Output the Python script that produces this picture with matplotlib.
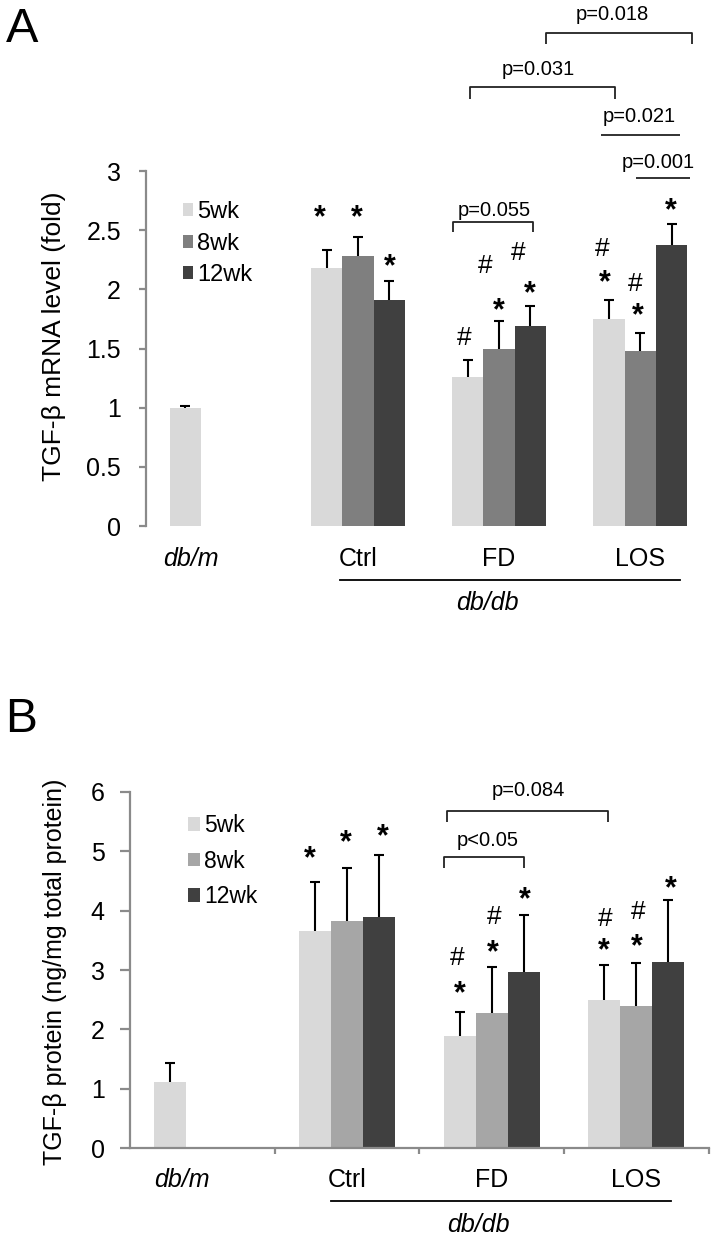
import numpy as np
import matplotlib
matplotlib.use('Agg')
import matplotlib.pyplot as plt

plt.rcParams['font.family'] = ['Liberation Sans', 'DejaVu Sans']

# ---- data ----
groups = ['db/m', 'Ctrl', 'FD', 'LOS']
weeks = ['5wk', '8wk', '12wk']
nan = np.nan

mrna_5wk = [1.00, 2.18, 1.26, 1.75]
mrna_8wk = [nan, 2.28, 1.50, 1.48]
mrna_12wk = [nan, 1.91, 1.69, 2.375]
mrna_err_5wk = [0.01, 0.15, 0.14, 0.16]
mrna_err_8wk = [nan, 0.16, 0.23, 0.15]
mrna_err_12wk = [nan, 0.16, 0.17, 0.18]

prot_5wk = [1.12, 3.65, 1.89, 2.49]
prot_8wk = [nan, 3.83, 2.28, 2.40]
prot_12wk = [nan, 3.90, 2.96, 3.14]
prot_err_5wk = [0.32, 0.83, 0.40, 0.60]
prot_err_8wk = [nan, 0.88, 0.77, 0.71]
prot_err_12wk = [nan, 1.04, 0.96, 1.04]

mrna_ticks = [0, 0.5, 1, 1.5, 2, 2.5, 3]
mrna_ticklabels = ['0', '0.5', '1', '1.5', '2', '2.5', '3']
prot_ticks = [0, 1, 2, 3, 4, 5, 6]
prot_ticklabels = ['0', '1', '2', '3', '4', '5', '6']

# significance marks: (symbol, x, y)
mrna_marks = [('*', 0.728, 2.687), ('*', 0.994, 2.687), ('*', 1.223, 2.265),
              ('#', 1.756, 1.606), ('#', 1.902, 2.222), ('*', 1.996, 1.90),
              ('#', 2.135, 2.327), ('*', 2.216, 2.037),
              ('#', 2.727, 2.360), ('*', 2.749, 2.130), ('#', 2.966, 2.065),
              ('*', 2.982, 1.851), ('*', 3.212, 2.741)]
prot_marks = [('*', 0.741, 5.03), ('*', 0.991, 5.29), ('*', 1.246, 5.40),
              ('#', 1.764, 3.24), ('*', 1.780, 2.75), ('#', 2.017, 3.93),
              ('*', 2.011, 3.45), ('*', 2.232, 4.34),
              ('#', 2.784, 3.90), ('*', 2.778, 3.48), ('#', 3.012, 4.01),
              ('*', 3.006, 3.55), ('*', 3.242, 4.53)]

# p-value brackets: (label, x0, x1, y_top, y_leg, text_x, text_baseline)
mrna_brackets = [('p=0.055', 1.676, 2.242, 2.572, 2.482, 1.963, 2.62),
                 ('p=0.031', 1.795, 2.817, 3.707, 3.611, 2.28, 3.809),
                 ('p=0.018', 2.332, 3.367, 4.169, 4.073, 2.80, 4.276),
                 ('p=0.021', 2.72, 3.277, 3.304, 3.304, 2.992, 3.417),
                 ('p=0.001', 2.966, 3.348, 2.938, 2.938, 3.128, 3.023)]
prot_brackets = [('p<0.05', 1.671, 2.226, 4.897, 4.722, 1.970, 5.087),
                 ('p=0.084', 1.694, 2.807, 5.671, 5.486, 2.254, 5.933)]

colors_a = ['#d9d9d9', '#7f7f7f', '#404040']
colors_b = ['#d9d9d9', '#a6a6a6', '#404040']
axis_grey = '#8a8a8a'

W, H = 717, 1237
fig = plt.figure(figsize=(W / 100, H / 100), dpi=100)


def draw_bars(ax, values, errors, colors):
    x = np.arange(len(groups))
    width = 0.222
    for i, (vals, errs) in enumerate(zip(values, errors)):
        pos = x + (i - 1) * width
        ax.bar(pos, vals, width=width, color=colors[i], label=weeks[i], zorder=2)
        errs = np.array(errs)
        eb = ax.errorbar(pos, vals, yerr=[np.zeros_like(errs), errs], fmt='none',
                         ecolor='black', elinewidth=1.5, capsize=3.3, capthick=1.5, zorder=3)
        eb[1][0].set_visible(False)


def draw_marks(ax, marks):
    for sym, x, y in marks:
        if sym == '*':
            fs, k, wt = 22, 0.58, 'bold'
        else:
            fs, k, wt = 19, 0.36, 'normal'
        ax.annotate(sym, (x, y), xytext=(0, -k * fs), textcoords='offset points',
                    ha='center', va='baseline', fontsize=fs, fontweight=wt,
                    annotation_clip=False)


def draw_brackets(ax, brackets):
    for label, x0, x1, yt, yl, tx, ty in brackets:
        ax.plot([x0, x0, x1, x1], [yl, yt, yt, yl], color='#222222', lw=1.3,
                clip_on=False, solid_capstyle='butt')
        ax.text(tx, ty, label, ha='center', va='baseline', fontsize=14.5, clip_on=False)


def style_axis(ax, tick_len, pad):
    for s in ['top', 'right']:
        ax.spines[s].set_visible(False)
    ax.spines['left'].set_color(axis_grey)
    ax.spines['left'].set_linewidth(1.6)
    ax.tick_params(axis='y', colors=axis_grey, labelcolor='black', length=tick_len,
                   width=1.6, pad=pad)
    ax.set_xlim(-0.5, 3.5)


# ---------------- panel A ----------------
axA = fig.add_axes([146 / W, 1 - 526 / H, 565 / W, 355 / H])
draw_bars(axA, [mrna_5wk, mrna_8wk, mrna_12wk],
          [mrna_err_5wk, mrna_err_8wk, mrna_err_12wk], colors_a)
style_axis(axA, 5, 13)
axA.spines['bottom'].set_visible(False)
axA.set_xticks([])
axA.set_ylim(0, 3)
axA.spines['left'].set_bounds(0, 3)
axA.set_yticks(mrna_ticks)
axA.set_yticklabels(mrna_ticklabels, fontsize=18)
draw_marks(axA, mrna_marks)
draw_brackets(axA, mrna_brackets)

cat_x_a = [-0.18, 1, 2, 3]
for g, cx in zip(groups, cat_x_a):
    axA.text(cx, -0.337, g, ha='center', va='baseline', fontsize=18,
             style='italic' if g == 'db/m' else 'normal', clip_on=False)
axA.plot([0.874, 3.277], [-0.456, -0.456], color='black', lw=1.3, clip_on=False)
axA.text(1.918, -0.714, 'db/db', ha='center', va='baseline', fontsize=18,
         style='italic', clip_on=False)
axA.legend(loc='upper left', bbox_to_anchor=(0.065, 0.915), frameon=False,
           fontsize=17, handlelength=0.45, handleheight=0.45, handletextpad=0.15,
           labelspacing=0.4, borderpad=0, borderaxespad=0)

fig.text(54 / W, 1 - 336.5 / H, 'TGF-β mRNA level (fold)', rotation=90,
         ha='center', va='center', fontsize=19)
fig.text(6 / W, 1 - 41.7 / H, 'A', fontsize=35, ha='left', va='baseline')

# ---------------- panel B ----------------
axB = fig.add_axes([130.1 / W, 1 - 1148.3 / H, 578.5 / W, 356.6 / H])
draw_bars(axB, [prot_5wk, prot_8wk, prot_12wk],
          [prot_err_5wk, prot_err_8wk, prot_err_12wk], colors_b)
style_axis(axB, 7.2, 11)
axB.spines['bottom'].set_color(axis_grey)
axB.spines['bottom'].set_linewidth(1.6)
axB.set_ylim(0, 6)
axB.set_yticks(prot_ticks)
axB.set_yticklabels(prot_ticklabels, fontsize=18)
axB.set_xticks([0.5, 1.5, 2.5, 3.5])
axB.set_xticklabels([])
axB.tick_params(axis='x', colors=axis_grey, length=4.3, width=1.6)
draw_marks(axB, prot_marks)
draw_brackets(axB, prot_brackets)

cat_x_b = [-0.14, 1, 2, 3]
for g, cx in zip(groups, cat_x_b):
    axB.text(cx, -0.646, g, ha='center', va='baseline', fontsize=18,
             style='italic' if g == 'db/m' else 'normal', clip_on=False)
axB.plot([0.89, 3.242], [-0.882, -0.882], color='black', lw=1.3, clip_on=False)
axB.text(1.908, -1.403, 'db/db', ha='center', va='baseline', fontsize=18,
         style='italic', clip_on=False)
axB.legend(loc='upper left', bbox_to_anchor=(0.0996, 0.9375), frameon=False,
           fontsize=16.5, handlelength=0.52, handleheight=0.56, handletextpad=0.2,
           labelspacing=0.55, borderpad=0, borderaxespad=0)

fig.text(55 / W, 1 - 972 / H, 'TGF-β protein (ng/mg total protein)', rotation=90,
         ha='center', va='center', fontsize=18)
fig.text(5.5 / W, 1 - 731.7 / H, 'B', fontsize=34.5, ha='left', va='baseline')

fig.savefig('out.png', dpi=100)
